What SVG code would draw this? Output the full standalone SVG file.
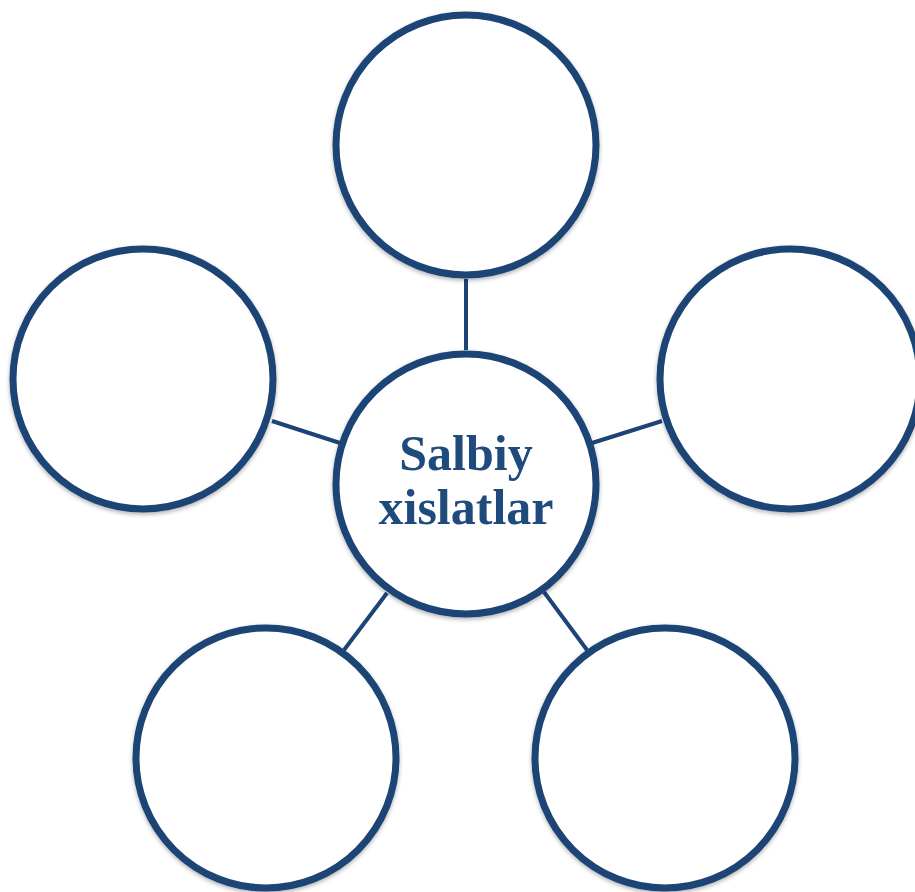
<svg xmlns="http://www.w3.org/2000/svg" width="915" height="892" viewBox="0 0 915 892">
  <style>
    .node { fill: #ffffff; stroke: #1d4476; stroke-width: 7; }
    .conn { stroke: #1d4476; stroke-width: 4; fill: none; }
    .label { font-family: "Liberation Serif", "Times New Roman", serif; font-weight: bold; font-size: 50px; fill: #1f4a7c; text-anchor: middle; }
  </style>
  <defs>
    <filter id="shadow" x="-10%" y="-10%" width="120%" height="125%">
      <feDropShadow dx="0" dy="2" stdDeviation="2" flood-color="#000000" flood-opacity="0.3"/>
    </filter>
  </defs>
  <rect width="915" height="892" fill="#ffffff"/>
  <g id="connectors">
    <line class="conn" x1="466" y1="279" x2="466" y2="350"/>
    <line class="conn" x1="272" y1="421" x2="340" y2="443"/>
    <line class="conn" x1="592" y1="443" x2="662" y2="421"/>
    <line class="conn" x1="387" y1="593" x2="344" y2="650"/>
    <line class="conn" x1="544" y1="592" x2="587" y2="650"/>
  </g>
  <g id="node-top">
    <circle class="node" cx="466" cy="145" r="130" filter="url(#shadow)"/>
  </g>
  <g id="node-left">
    <circle class="node" cx="143" cy="379" r="130" filter="url(#shadow)"/>
  </g>
  <g id="node-right">
    <circle class="node" cx="790" cy="379" r="130" filter="url(#shadow)"/>
  </g>
  <g id="node-bottom-left">
    <circle class="node" cx="266" cy="758" r="130" filter="url(#shadow)"/>
  </g>
  <g id="node-bottom-right">
    <circle class="node" cx="665" cy="758" r="130" filter="url(#shadow)"/>
  </g>
  <g id="node-center">
    <circle class="node" cx="466" cy="484" r="130" filter="url(#shadow)"/>
    <text class="label" x="466" y="470">Salbiy</text>
    <text class="label" x="466" y="524">xislatlar</text>
  </g>
</svg>
